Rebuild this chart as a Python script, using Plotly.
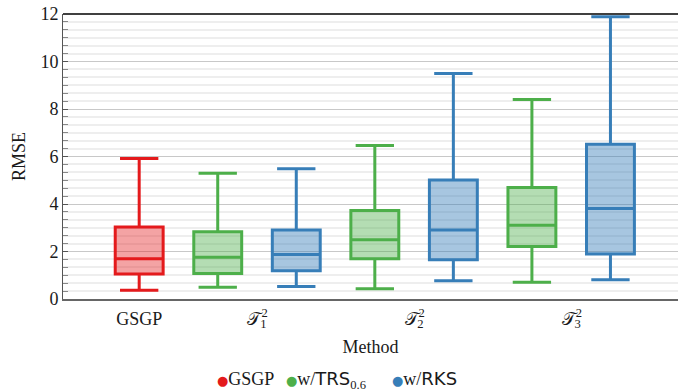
import plotly.graph_objects as go

# ---- data ----
positions = [0, 1, 2, 3, 4, 5, 6]
groups = ["GSGP", "TRS", "RKS", "TRS", "RKS", "TRS", "RKS"]
lower_fence = [0.37, 0.50, 0.53, 0.43, 0.77, 0.71, 0.81]
q1_vals = [1.05, 1.07, 1.19, 1.69, 1.65, 2.21, 1.90]
medians = [1.69, 1.76, 1.87, 2.49, 2.91, 3.11, 3.81]
q3_vals = [3.03, 2.83, 2.91, 3.73, 5.01, 4.69, 6.52]
upper_fence = [5.92, 5.30, 5.48, 6.46, 9.49, 8.40, 11.88]

tick_positions = [0, 1.5, 3.5, 5.5]
tick_labels = [
    "GSGP",
    "𝒯<sup><span style='letter-spacing:-0.6em'>2</span></sup><sub>1</sub>",
    "𝒯<sup><span style='letter-spacing:-0.6em'>2</span></sup><sub>2</sub>",
    "𝒯<sup><span style='letter-spacing:-0.6em'>2</span></sup><sub>3</sub>",
]

colors = {"GSGP": "#e41a1c", "TRS": "#4daf4a", "RKS": "#377eb8"}
fills = {"GSGP": "rgba(228,26,28,0.40)", "TRS": "rgba(77,175,74,0.42)", "RKS": "rgba(55,126,184,0.44)"}
legend_labels = {
    "GSGP": "GSGP",
    "TRS": "w/<span style=\"font-family:'DejaVu Sans'\">TRS</span><sub>0.6</sub>",
    "RKS": "w/<span style=\"font-family:'DejaVu Sans'\">RKS</span>",
}
legend_ids = {"GSGP": "legend", "TRS": "legend2", "RKS": "legend3"}
legend_x_px = {"GSGP": 177, "TRS": 246, "RKS": 352}

SERIF = "Liberation Serif"
W, H = 678, 391

fig = go.Figure()
for i, pos in enumerate(positions):
    g = groups[i]
    fig.add_trace(go.Box(
        x=[pos], q1=[q1_vals[i]], median=[medians[i]], q3=[q3_vals[i]],
        lowerfence=[lower_fence[i]], upperfence=[upper_fence[i]],
        width=0.61, whiskerwidth=0.8, boxpoints=False,
        line=dict(color=colors[g], width=3), fillcolor=fills[g],
        showlegend=False, hoverinfo="skip",
    ))

for g in ["GSGP", "TRS", "RKS"]:
    fig.add_trace(go.Scatter(
        x=[None], y=[None], mode="markers",
        name=f"<span style='color:{colors[g]};font-size:13px;font-family:\"DejaVu Sans\"'>●</span>" + legend_labels[g],
        marker=dict(color="rgba(0,0,0,0)", size=1, line=dict(width=0)),
        legend=legend_ids[g],
    ))

legend_common = dict(orientation="h", xref="container", yref="container",
                     xanchor="left", yanchor="middle", y=1 - 378 / H,
                     font=dict(family=SERIF, size=18, color="#1a1a1a"),
                     itemwidth=30, bgcolor="rgba(0,0,0,0)", borderwidth=0)

layout_legends = {}
for g in ["GSGP", "TRS", "RKS"]:
    layout_legends[legend_ids[g]] = dict(legend_common, x=legend_x_px[g] / W)

fig.update_layout(
    width=W, height=H,
    margin=dict(l=63, r=0, t=14, b=92),
    paper_bgcolor="white", plot_bgcolor="white",
    font=dict(family=SERIF, size=18, color="#1a1a1a"),
    showlegend=True,
    xaxis=dict(
        range=[-0.97, 6.86], tickmode="array", tickvals=tick_positions, ticktext=tick_labels,
        showgrid=False, zeroline=False, showline=True, linecolor="#666", linewidth=2,
        ticks="outside", ticklen=2, tickcolor="rgba(0,0,0,0)",
        title=dict(text="Method", standoff=10, font=dict(size=18)),
        tickfont=dict(size=18),
    ),
    yaxis=dict(
        range=[0, 12], dtick=2, tick0=0, showgrid=True, gridcolor="#c8c8c8", gridwidth=1,
        zeroline=False, showline=True, linecolor="#555", linewidth=1,
        ticks="inside", ticklen=5, tickcolor="#555",
        minor=dict(dtick=2 / 6, showgrid=True, gridcolor="#eeeeee", gridwidth=1.5,
                   ticks="inside", ticklen=5, tickcolor="#888"),
        title=dict(text="RMSE", standoff=10, font=dict(size=18)),
        tickfont=dict(size=18),
    ),
    shapes=[dict(type="line", xref="paper", yref="paper", x0=0, x1=1, y0=1, y1=1,
                 line=dict(color="black", width=1.3))],
    **layout_legends,
)

fig.write_html("out.html")
